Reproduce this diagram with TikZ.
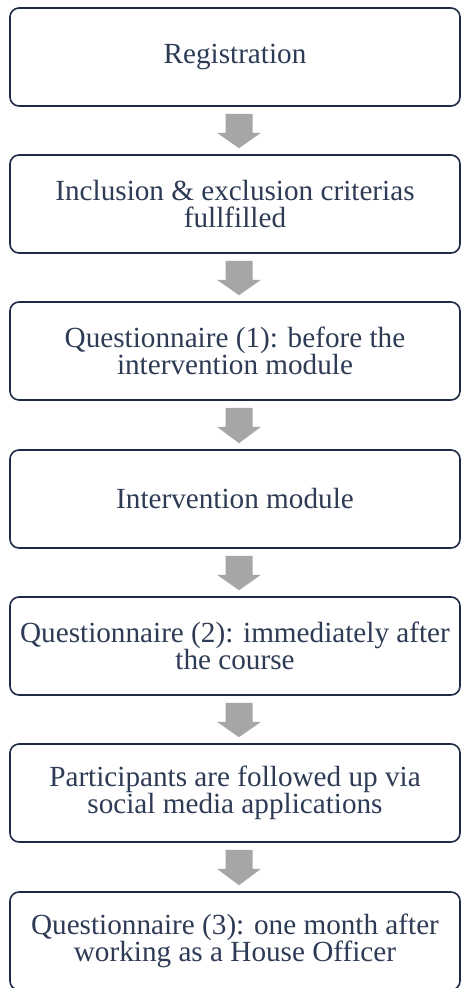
\documentclass[tikz,border=0pt]{standalone}
\usepackage{fontspec}
\setmainfont{Liberation Serif}
\usetikzlibrary{calc}
\definecolor{boxline}{HTML}{1F2A44}
\definecolor{txt}{HTML}{2E3B55}
\definecolor{arrowgray}{HTML}{A6A6A6}
\tikzset{
  stagebox/.style={draw=boxline, line width=1.6pt, rounded corners=9pt, fill=white,
    minimum width=450pt, minimum height=98pt, align=center, text=txt,
    font=\fontsize{29.2}{27.5}\selectfont, inner sep=0pt},
}
\newcommand\blockarrow[2]{%
  \fill[arrowgray]
    ($(#1.south)+(-9.5,7)$) -- ($(#1.south)+(17.5,7)$) --
    ($(#1.south)+(17.5,26)$) -- ($(#1.south)+(26,26)$) --
    ($(#2.north)+(4,-6)$) --
    ($(#1.south)+(-18,26)$) -- ($(#1.south)+(-9.5,26)$) -- cycle;
}
\begin{document}
\begin{tikzpicture}[x=1pt,y=-1pt]
\useasboundingbox (0,0) rectangle (462,988);
\fill[white] (0,0) rectangle (462,988);
\node[stagebox] (b1) at (235,57) {Registration};
\node[stagebox] (b2) at (235,204) {Inclusion \& exclusion criterias\\fullfilled};
\node[stagebox] (b3) at (235,351) {Questionnaire (1): before the\\intervention module};
\node[stagebox] (b4) at (235,499) {Intervention module};
\node[stagebox] (b5) at (235,646) {Questionnaire (2): immediately after\\the course};
\node[stagebox] (b6) at (235,793) {Participants are followed up via\\social media applications};
\node[stagebox] (b7) at (235,941) {Questionnaire (3): one month after\\working as a House Officer};
\blockarrow{b1}{b2}
\blockarrow{b2}{b3}
\blockarrow{b3}{b4}
\blockarrow{b4}{b5}
\blockarrow{b5}{b6}
\blockarrow{b6}{b7}
\end{tikzpicture}
\end{document}
